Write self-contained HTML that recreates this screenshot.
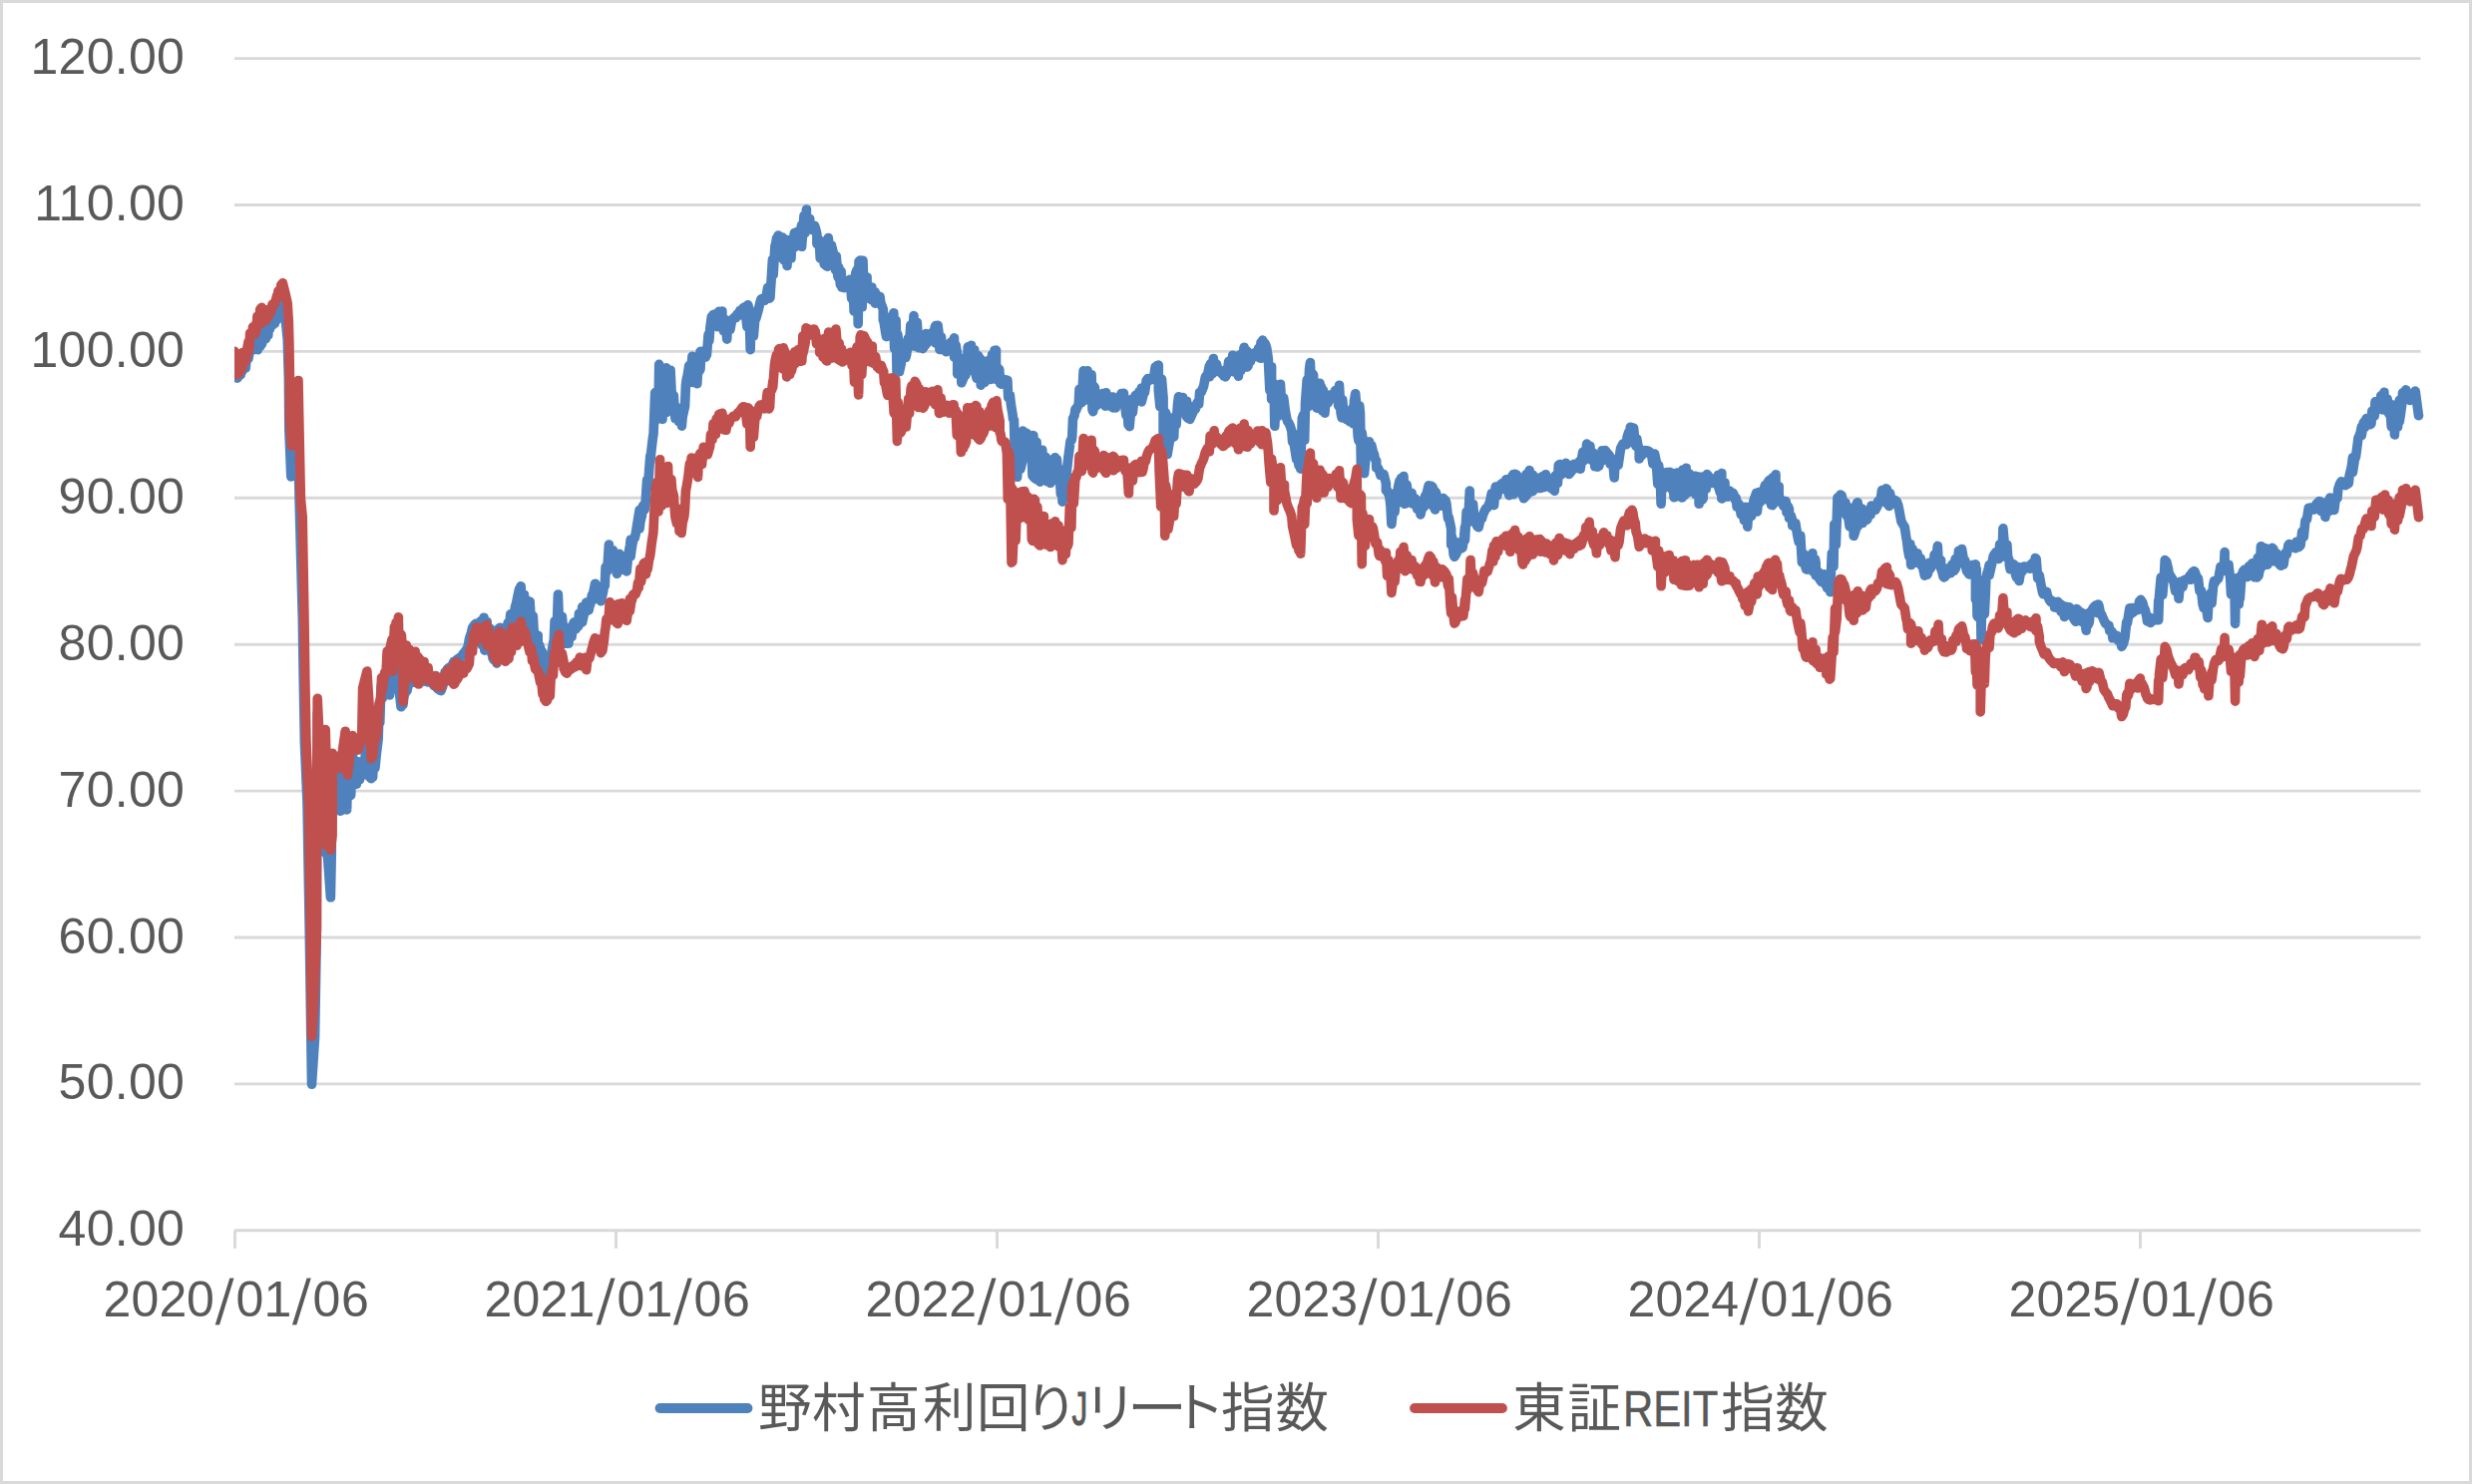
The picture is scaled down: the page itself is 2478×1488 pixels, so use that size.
<!DOCTYPE html>
<html lang="ja"><head><meta charset="utf-8"><title>chart</title>
<style>html,body{margin:0;padding:0;background:#fff;}body{width:2478px;height:1488px;position:relative;overflow:hidden;}</style></head>
<body>
<svg width="2478" height="1488" viewBox="0 0 2478 1488" style="display:block;position:absolute;left:0;top:0">
<defs><clipPath id="pc"><rect x="235.0" y="0" width="2196.0" height="1488"/></clipPath></defs>
<rect x="0" y="0" width="2478" height="1488" fill="#ffffff"/>
<rect x="1.5" y="1.5" width="2475" height="1485" fill="none" stroke="#d9d9d9" stroke-width="3"/>
<g stroke="#d9d9d9" stroke-width="2.9" fill="none">
<line x1="235.0" y1="58.6" x2="2426.5" y2="58.6"/>
<line x1="235.0" y1="205.5" x2="2426.5" y2="205.5"/>
<line x1="235.0" y1="352.4" x2="2426.5" y2="352.4"/>
<line x1="235.0" y1="499.3" x2="2426.5" y2="499.3"/>
<line x1="235.0" y1="646.2" x2="2426.5" y2="646.2"/>
<line x1="235.0" y1="793.1" x2="2426.5" y2="793.1"/>
<line x1="235.0" y1="940.0" x2="2426.5" y2="940.0"/>
<line x1="235.0" y1="1086.9" x2="2426.5" y2="1086.9"/>
<line x1="235.0" y1="1233.8" x2="2426.5" y2="1233.8"/>
<line x1="235.5" y1="1233.8" x2="235.5" y2="1251.8"/>
<line x1="617.5" y1="1233.8" x2="617.5" y2="1251.8"/>
<line x1="999.5" y1="1233.8" x2="999.5" y2="1251.8"/>
<line x1="1381.5" y1="1233.8" x2="1381.5" y2="1251.8"/>
<line x1="1763.5" y1="1233.8" x2="1763.5" y2="1251.8"/>
<line x1="2145.5" y1="1233.8" x2="2145.5" y2="1251.8"/>
</g>
<g font-family="'Liberation Sans', sans-serif" font-size="50.0" fill="#595959">
<text x="185.2" y="74.1" text-anchor="end" letter-spacing="0.3">120.00</text>
<text x="185.2" y="221.0" text-anchor="end" letter-spacing="0.3">110.00</text>
<text x="185.2" y="367.9" text-anchor="end" letter-spacing="0.3">100.00</text>
<text x="185.2" y="514.8" text-anchor="end" letter-spacing="0.3">90.00</text>
<text x="185.2" y="661.7" text-anchor="end" letter-spacing="0.3">80.00</text>
<text x="185.2" y="808.6" text-anchor="end" letter-spacing="0.3">70.00</text>
<text x="185.2" y="955.5" text-anchor="end" letter-spacing="0.3">60.00</text>
<text x="185.2" y="1102.4" text-anchor="end" letter-spacing="0.3">50.00</text>
<text x="185.2" y="1249.3" text-anchor="end" letter-spacing="0.3">40.00</text>
<g><text y="1320.0" x="103.4 131.4 159.5 187.1">2020</text><text font-size="64.8" stroke="#ffffff" stroke-width="1.15" transform="translate(214.8,1327.8) scale(1.15,1)">/</text><text y="1320.0" x="236.4 264.4">01</text><text font-size="64.8" stroke="#ffffff" stroke-width="1.15" transform="translate(291.9,1327.8) scale(1.15,1)">/</text><text y="1320.0" x="313.5 341.9">06</text></g>
<g><text y="1320.0" x="485.4 513.4 541.5 568.5">2021</text><text font-size="64.8" stroke="#ffffff" stroke-width="1.15" transform="translate(596.8,1327.8) scale(1.15,1)">/</text><text y="1320.0" x="618.4 646.4">01</text><text font-size="64.8" stroke="#ffffff" stroke-width="1.15" transform="translate(673.9,1327.8) scale(1.15,1)">/</text><text y="1320.0" x="695.5 723.9">06</text></g>
<g><text y="1320.0" x="867.4 895.4 923.5 951.2">2022</text><text font-size="64.8" stroke="#ffffff" stroke-width="1.15" transform="translate(978.8,1327.8) scale(1.15,1)">/</text><text y="1320.0" x="1000.4 1028.4">01</text><text font-size="64.8" stroke="#ffffff" stroke-width="1.15" transform="translate(1055.9,1327.8) scale(1.15,1)">/</text><text y="1320.0" x="1077.5 1105.9">06</text></g>
<g><text y="1320.0" x="1249.4 1277.4 1305.5 1333.3">2023</text><text font-size="64.8" stroke="#ffffff" stroke-width="1.15" transform="translate(1360.8,1327.8) scale(1.15,1)">/</text><text y="1320.0" x="1382.4 1410.4">01</text><text font-size="64.8" stroke="#ffffff" stroke-width="1.15" transform="translate(1437.9,1327.8) scale(1.15,1)">/</text><text y="1320.0" x="1459.5 1487.9">06</text></g>
<g><text y="1320.0" x="1631.4 1659.4 1687.5 1715.3">2024</text><text font-size="64.8" stroke="#ffffff" stroke-width="1.15" transform="translate(1742.8,1327.8) scale(1.15,1)">/</text><text y="1320.0" x="1764.4 1792.4">01</text><text font-size="64.8" stroke="#ffffff" stroke-width="1.15" transform="translate(1819.9,1327.8) scale(1.15,1)">/</text><text y="1320.0" x="1841.5 1869.9">06</text></g>
<g><text y="1320.0" x="2013.4 2041.4 2069.5 2097.2">2025</text><text font-size="64.8" stroke="#ffffff" stroke-width="1.15" transform="translate(2124.8,1327.8) scale(1.15,1)">/</text><text y="1320.0" x="2146.4 2174.4">01</text><text font-size="64.8" stroke="#ffffff" stroke-width="1.15" transform="translate(2201.9,1327.8) scale(1.15,1)">/</text><text y="1320.0" x="2223.5 2251.9">06</text></g>
</g>
<g clip-path="url(#pc)" fill="none" stroke-width="9.6" stroke-linejoin="round" stroke-linecap="round">
<polyline stroke="#4f81bd" points="235.0,357.9 235.0,378.4 236.5,378.8 238.1,360.4 238.1,379.1 239.5,377.1 240.5,363.1 241.3,375.4 241.7,367.7 242.1,361.1 242.5,372.4 243.3,359.2 243.3,369.9 246.2,369.1 247.4,356.8 249.0,348.5 249.0,359.4 250.2,352.3 250.6,339.8 251.2,342.0 253.5,333.4 253.5,346.2 254.5,350.6 255.5,350.4 255.9,335.7 257.1,329.2 257.9,322.9 258.3,350.6 260.7,315.8 260.7,347.5 262.4,313.9 262.4,345.1 264.0,340.0 265.6,316.2 266.4,339.5 268.0,316.9 268.8,336.0 269.6,319.5 270.5,329.7 271.3,315.8 272.9,310.8 272.9,326.1 274.5,309.7 275.3,324.3 276.1,307.8 276.9,321.1 277.7,301.8 278.5,317.1 278.9,297.6 280.2,316.3 281.8,291.3 282.2,318.7 283.0,290.5 283.6,306.0 286.0,318.0 288.2,340.0 289.4,380.0 289.8,430.0 291.8,478.0 295.5,430.0 298.6,392.0 298.9,451.0 300.2,505.0 303.3,620.0 304.2,680.0 305.4,745.0 308.0,805.0 310.2,931.0 312.5,1087.3 315.6,1040.0 317.4,931.0 317.6,834.0 318.2,715.0 320.2,752.0 326.8,856.0 326.2,745.0 328.6,860.0 331.4,899.8 332.3,855.0 332.4,800.0 333.0,775.2 334.5,786.6 336.5,786.4 336.9,771.1 337.2,803.9 339.0,776.7 340.2,782.3 341.2,813.2 342.0,781.7 343.5,811.1 344.4,810.2 346.2,750.0 347.7,811.9 348.3,775.4 349.5,798.9 351.7,797.4 352.5,774.9 353.5,756.3 355.5,779.7 357.4,786.2 358.8,763.9 360.6,781.7 362.0,774.4 363.0,764.2 364.5,776.3 365.5,775.6 367.9,707.3 368.7,777.3 370.5,778.8 371.9,780.6 372.6,779.9 373.6,779.4 375.2,749.1 376.0,769.8 377.2,757.6 379.2,740.5 380.0,711.9 380.8,724.3 381.7,694.6 382.5,686.0 383.3,700.0 384.8,685.5 385.7,680.7 386.5,683.0 387.3,677.9 388.1,659.6 389.3,695.7 390.6,697.0 391.4,654.3 393.0,647.4 393.8,691.3 395.4,634.9 395.4,685.7 397.0,630.7 397.8,684.9 399.4,625.2 399.4,687.8 400.5,695.3 402.0,708.7 404.0,695.5 404.0,706.5 405.0,697.9 406.5,693.6 407.3,693.2 408.0,692.8 409.7,684.7 411.0,684.6 412.5,684.4 414.0,684.2 415.5,684.1 417.0,683.9 418.5,683.8 420.0,683.6 421.5,683.4 423.0,683.3 424.5,683.1 426.0,683.2 427.5,682.6 429.0,683.9 430.5,680.8 432.4,679.7 432.4,684.3 433.5,679.1 434.8,687.3 436.5,677.6 438.0,689.8 438.8,690.6 441.0,692.2 442.1,692.6 444.0,687.3 446.1,673.9 446.1,681.2 447.0,676.8 448.5,670.8 448.5,670.8 450.0,669.4 451.8,668.9 453.0,667.7 455.0,663.3 456.0,663.2 457.5,661.8 458.3,661.1 459.0,660.6 460.5,659.7 462.3,658.6 463.5,656.8 464.7,655.1 467.2,651.8 468.0,650.6 468.8,649.4 469.5,646.2 470.4,640.8 472.5,634.1 473.6,629.4 475.5,626.6 476.9,625.4 477.7,635.5 478.5,625.9 480.1,625.9 481.7,622.9 481.7,643.4 483.0,646.7 485.0,619.2 485.8,652.1 488.2,623.5 489.0,648.3 490.5,630.3 491.4,630.2 493.0,656.0 493.9,638.0 493.9,659.5 495.0,661.7 497.1,633.2 497.9,665.1 499.5,630.9 501.1,629.2 501.1,658.7 502.5,629.9 504.4,632.1 505.2,646.2 506.8,633.0 508.5,627.8 509.2,624.4 510.0,637.4 511.7,615.9 513.3,631.6 514.9,618.0 516.5,608.3 517.5,605.2 518.9,598.2 520.5,590.9 522.2,587.7 523.0,620.3 525.4,596.2 525.4,620.3 526.5,600.2 527.8,604.9 527.8,628.8 529.5,604.1 531.1,603.1 532.7,628.4 534.3,617.7 535.1,631.7 535.9,636.8 536.7,647.0 539.2,637.2 539.2,652.2 540.0,656.7 540.8,647.4 541.5,649.9 542.4,658.1 543.2,653.2 544.8,667.7 545.6,657.2 548.1,659.9 548.1,682.5 549.7,657.7 550.5,661.7 551.3,661.2 552.1,658.8 553.5,651.0 554.5,645.3 555.3,641.3 556.1,622.7 558.0,637.3 559.4,596.1 561.0,637.3 561.8,636.5 563.4,618.3 565.0,635.2 566.7,645.2 566.7,645.2 568.5,636.7 569.9,634.3 569.9,645.3 571.5,631.1 572.3,628.8 573.1,638.4 574.5,625.8 575.6,623.8 577.2,631.1 578.8,623.3 579.6,627.9 580.4,615.2 582.0,624.8 583.7,608.5 583.7,623.7 585.0,617.7 586.1,612.8 587.7,604.1 590.1,612.0 591.0,607.6 591.7,605.9 592.5,602.9 593.4,596.5 593.4,601.8 595.0,593.1 596.6,585.2 599.0,600.5 599.8,587.8 601.5,591.9 602.3,602.7 603.1,599.7 604.5,593.8 605.5,587.1 606.3,587.4 607.1,568.6 608.7,572.7 610.4,546.1 611.2,560.7 612.0,562.6 613.6,567.5 614.4,551.8 616.0,561.3 618.4,575.3 619.5,556.0 620.9,555.3 622.5,571.4 624.1,557.9 625.7,570.6 627.3,569.4 628.2,572.9 629.8,556.4 631.5,547.1 632.2,541.1 632.2,557.6 633.0,551.0 634.6,541.7 636.2,539.5 637.1,535.9 638.7,525.9 641.1,511.4 641.1,529.9 642.0,522.6 643.5,516.5 644.3,507.7 646.2,505.5 646.2,510.8 647.0,505.5 648.6,481.2 649.4,489.1 651.8,456.9 651.8,462.9 653.0,451.0 654.3,439.9 655.1,434.6 656.7,393.8 656.7,422.4 657.6,393.0 659.1,417.2 659.9,417.1 660.7,365.4 662.4,416.3 664.0,420.4 664.8,371.2 666.6,369.6 668.0,368.9 668.0,413.4 669.6,404.3 671.1,406.3 672.1,371.3 673.7,404.2 675.3,396.7 676.9,419.6 676.9,419.6 678.6,420.3 680.2,411.0 680.2,422.5 681.8,409.2 683.4,427.1 684.2,417.9 686.6,407.3 686.6,407.3 687.4,386.7 688.3,379.7 689.2,376.5 690.7,366.6 690.7,371.3 692.2,381.8 693.9,357.3 694.7,383.4 697.2,358.6 698.8,384.7 700.4,358.4 701.2,371.5 702.0,352.5 702.0,370.4 702.8,352.3 704.4,352.8 706.1,356.3 707.3,358.0 708.5,354.0 708.5,355.3 710.1,335.4 710.9,341.4 711.8,329.0 713.3,317.5 713.3,321.2 714.8,315.6 716.6,326.0 717.4,314.8 719.3,327.6 720.6,312.3 720.6,327.2 722.3,325.1 723.9,312.1 723.9,324.3 725.5,332.1 727.1,320.5 728.7,340.1 729.5,325.4 731.9,330.5 733.6,321.4 733.6,321.4 734.4,320.2 735.9,318.6 736.8,317.6 737.6,318.8 738.9,315.0 740.4,316.3 741.7,311.4 741.7,315.3 743.4,313.2 744.9,308.7 745.7,308.4 745.7,308.4 746.4,307.8 747.3,313.3 748.9,327.7 749.7,305.7 751.0,310.0 752.2,350.6 753.0,312.9 754.6,318.4 755.4,336.8 757.0,317.5 757.8,319.4 757.8,319.4 760.0,311.7 760.7,308.6 762.3,301.9 763.1,299.8 765.5,299.1 765.5,299.1 766.5,301.3 768.0,298.3 768.0,298.3 769.6,288.3 771.0,299.3 772.0,288.7 772.0,298.3 774.4,260.2 775.2,275.1 776.9,246.5 776.9,249.1 778.5,239.0 779.3,247.5 780.1,236.0 780.9,252.9 783.3,257.1 784.1,238.1 785.0,259.8 786.0,260.9 787.4,240.2 788.2,240.4 789.0,266.5 790.4,241.9 791.4,243.5 793.0,259.0 793.9,239.5 794.9,248.4 796.3,233.6 796.3,248.0 797.9,234.7 799.5,232.3 800.3,243.7 801.9,234.9 803.6,225.7 803.6,247.3 806.0,216.2 806.8,233.7 808.4,210.0 808.4,220.8 809.9,225.2 811.7,219.3 811.7,226.6 813.3,230.4 814.1,230.0 816.5,226.3 816.5,226.3 817.4,228.7 818.9,234.7 818.9,244.5 820.4,239.5 821.4,242.8 822.2,259.0 823.8,246.9 825.4,254.1 826.2,264.9 827.0,242.1 827.9,266.3 829.4,267.3 830.3,238.6 832.7,264.1 833.5,246.1 835.9,255.8 835.9,264.5 837.5,258.8 837.5,270.8 838.3,257.1 840.0,277.8 840.8,268.4 842.4,285.6 843.2,272.3 844.0,288.1 846.4,288.6 846.4,288.6 847.3,283.6 848.9,287.3 849.7,282.4 851.3,285.3 852.1,280.2 853.7,299.3 855.3,288.2 856.1,312.1 857.8,273.6 859.3,270.2 860.2,324.8 861.0,262.1 862.3,261.1 864.2,307.8 865.0,261.2 865.9,287.5 866.8,286.8 868.3,277.6 869.1,277.8 869.1,299.0 869.9,298.3 871.5,295.1 872.8,297.9 873.9,288.1 873.9,300.8 875.8,301.6 877.2,293.0 877.2,304.1 878.8,299.5 879.6,303.9 882.0,297.2 882.8,303.3 885.3,310.1 885.3,320.9 886.1,322.7 887.8,334.1 888.5,337.6 889.3,325.2 890.7,332.7 891.7,323.4 891.7,329.0 893.4,317.3 895.0,329.8 895.8,313.7 896.6,349.5 898.2,321.6 899.0,372.9 899.8,335.5 901.5,348.2 901.5,372.6 903.1,365.4 904.7,355.8 906.3,357.1 907.2,350.5 907.9,343.7 907.9,358.4 908.7,355.5 910.4,339.3 910.4,349.2 911.7,344.4 912.8,326.1 912.8,342.3 914.7,344.9 916.0,316.6 916.0,345.0 917.6,347.2 919.3,323.4 920.9,348.7 921.7,336.7 924.1,341.1 924.9,349.6 926.7,347.2 928.2,334.6 928.2,345.4 929.7,343.0 930.6,341.4 931.4,336.6 932.7,340.3 933.8,341.7 934.6,333.2 936.2,336.7 937.2,328.0 937.9,326.5 937.9,344.2 938.6,344.1 940.1,326.4 941.1,334.5 941.9,350.5 943.5,337.9 944.3,350.4 946.0,350.1 947.6,346.2 948.4,352.7 949.1,345.6 950.8,347.5 952.4,346.7 953.2,343.1 954.9,345.3 956.5,338.8 956.5,358.1 958.1,345.9 959.7,355.2 959.7,375.0 961.1,362.4 962.1,364.1 963.8,368.7 963.8,383.8 965.6,379.6 967.0,359.4 967.8,376.2 968.6,372.5 969.4,368.7 970.2,347.9 971.6,370.8 973.5,346.3 973.5,370.9 974.6,370.5 976.7,350.7 976.7,370.5 977.6,373.5 979.1,379.3 980.7,356.7 982.1,360.8 983.2,360.1 983.2,386.2 984.8,374.8 987.2,383.3 988.0,365.2 989.6,379.5 991.3,361.2 992.9,380.4 994.5,355.7 995.3,377.2 997.0,351.5 998.5,351.1 998.5,380.4 1000.0,368.6 1001.8,370.7 1002.6,384.5 1003.4,385.0 1004.5,385.2 1006.6,380.4 1007.4,380.7 1009.0,381.0 1009.9,381.3 1009.9,381.3 1010.7,398.6 1012.3,395.7 1013.5,406.1 1015.0,415.2 1015.5,419.9 1016.5,421.2 1017.3,456.2 1018.1,462.8 1019.7,478.3 1021.3,437.4 1023.0,470.2 1024.6,463.5 1025.4,432.0 1027.0,435.5 1029.4,434.4 1029.4,441.6 1031.0,455.5 1032.7,437.7 1032.7,460.0 1033.5,437.3 1035.0,477.0 1035.9,436.5 1035.9,478.3 1038.0,480.0 1039.1,443.0 1039.1,480.8 1041.6,455.8 1042.4,483.1 1044.0,481.9 1044.8,451.4 1045.6,480.7 1047.0,481.5 1048.0,458.4 1049.6,482.6 1050.5,466.1 1051.5,465.1 1052.9,484.3 1053.7,464.8 1054.5,463.3 1056.1,460.0 1056.1,480.7 1057.5,458.9 1058.5,464.4 1059.4,460.6 1061.0,482.5 1061.8,470.2 1063.4,495.4 1064.2,473.2 1065.0,503.1 1065.8,500.6 1066.6,491.2 1068.3,482.7 1068.3,485.5 1069.5,471.4 1070.7,459.9 1070.7,459.9 1073.1,441.9 1074.0,441.6 1074.7,438.4 1075.5,419.7 1077.0,416.8 1078.0,410.2 1078.8,411.2 1080.0,407.7 1081.2,406.3 1081.2,406.3 1082.0,390.2 1083.0,402.4 1084.4,403.5 1086.1,371.8 1086.9,400.3 1089.3,391.5 1090.1,371.7 1091.7,401.4 1094.1,375.8 1095.0,411.0 1095.8,412.7 1096.5,387.2 1097.4,388.7 1099.0,404.4 1099.0,406.9 1101.4,400.5 1102.2,397.2 1104.7,401.5 1105.5,394.6 1107.0,405.6 1107.9,407.1 1108.7,393.7 1110.0,406.6 1111.1,406.3 1111.9,397.5 1113.0,407.2 1115.2,398.0 1115.2,408.4 1116.0,408.9 1117.5,398.9 1118.4,408.9 1119.2,400.1 1120.5,399.1 1121.7,405.2 1123.3,396.4 1124.1,394.6 1125.0,397.2 1126.5,394.2 1126.5,403.3 1128.0,408.7 1128.9,416.5 1129.7,402.1 1131.0,426.0 1132.2,409.6 1132.2,427.7 1134.6,400.3 1135.4,413.6 1137.0,398.7 1138.6,396.1 1139.4,398.8 1141.9,392.7 1141.9,401.3 1143.0,402.3 1144.3,389.0 1144.3,402.9 1146.0,396.2 1147.5,387.8 1147.5,393.4 1149.2,381.3 1149.2,381.3 1150.5,379.6 1152.4,379.7 1152.4,381.2 1153.5,380.6 1154.8,380.5 1155.6,380.2 1156.5,379.4 1158.1,368.1 1158.1,368.1 1159.5,367.0 1160.5,366.3 1161.3,366.1 1161.3,391.5 1162.9,407.7 1164.5,380.2 1166.1,399.0 1166.1,433.6 1167.0,439.9 1168.5,413.7 1169.4,416.3 1170.2,455.5 1171.0,450.5 1172.6,441.3 1174.2,437.0 1176.7,438.1 1176.7,438.1 1177.5,418.1 1179.1,425.6 1180.5,405.4 1181.5,397.7 1181.5,414.1 1183.9,409.3 1185.6,398.5 1187.2,414.0 1188.0,415.1 1189.6,402.3 1189.6,417.9 1191.0,419.4 1192.8,407.6 1192.8,420.4 1194.0,417.6 1196.1,412.9 1196.9,409.5 1198.5,409.8 1200.1,403.7 1201.7,405.3 1202.6,393.4 1204.2,393.1 1206.6,387.1 1206.6,387.1 1207.5,382.3 1208.2,378.5 1209.0,377.0 1210.5,375.8 1212.3,367.0 1212.3,377.7 1213.5,364.7 1215.5,374.6 1216.3,359.5 1217.9,370.1 1219.5,365.0 1221.0,371.7 1222.0,372.5 1222.0,372.5 1224.0,373.5 1225.2,375.1 1226.0,372.6 1227.0,377.1 1228.4,370.8 1228.4,377.9 1230.0,375.0 1231.7,362.2 1232.5,372.2 1234.9,367.4 1235.7,356.2 1237.3,373.0 1239.0,360.0 1240.5,358.4 1241.4,377.1 1243.0,355.7 1243.8,371.5 1245.4,362.9 1247.1,348.2 1248.0,366.5 1249.5,351.5 1250.3,352.3 1250.3,368.0 1251.0,366.9 1252.7,356.0 1253.5,362.4 1255.5,354.6 1256.8,355.2 1256.8,357.9 1258.5,353.4 1260.0,357.7 1261.6,349.1 1263.0,358.9 1264.0,343.3 1264.0,359.3 1265.7,341.1 1267.3,345.7 1268.1,344.4 1268.9,346.3 1269.7,348.9 1270.5,354.0 1271.3,359.4 1271.3,359.4 1272.9,391.5 1274.6,367.9 1274.6,400.4 1277.0,384.8 1277.8,427.2 1279.4,394.3 1281.0,417.4 1282.7,405.3 1283.5,385.3 1285.1,412.7 1286.7,398.9 1288.3,411.3 1289.1,415.9 1290.0,420.5 1290.7,422.5 1291.6,423.6 1293.2,426.9 1294.8,432.0 1295.6,442.9 1297.2,445.1 1299.6,460.6 1300.5,456.4 1302.0,466.7 1303.7,434.1 1303.7,470.2 1305.3,419.6 1306.5,416.0 1307.7,441.1 1308.5,404.0 1310.2,380.8 1311.0,407.7 1312.5,370.5 1313.4,363.5 1314.2,384.9 1315.5,374.5 1316.6,375.9 1316.6,406.2 1318.3,393.1 1319.9,409.1 1321.5,384.5 1323.1,384.3 1323.1,407.1 1324.5,388.2 1325.5,411.9 1326.3,391.4 1328.0,414.2 1328.8,400.7 1331.2,404.1 1332.0,401.7 1332.8,396.1 1333.6,397.6 1335.0,399.1 1336.1,397.6 1337.7,396.8 1338.5,391.6 1340.1,394.8 1341.0,401.1 1341.7,406.9 1342.5,386.3 1344.0,413.3 1345.0,418.7 1345.8,401.1 1347.0,419.2 1348.2,416.6 1349.0,419.5 1349.8,420.6 1351.5,415.4 1353.0,422.7 1353.0,422.7 1354.5,415.7 1355.5,409.6 1356.3,424.7 1357.5,401.8 1358.7,394.7 1359.5,404.5 1361.1,436.8 1362.0,442.0 1362.8,407.1 1363.5,414.7 1364.4,467.5 1365.2,434.1 1366.5,442.9 1367.6,447.9 1367.6,474.6 1369.2,456.8 1370.0,451.4 1371.0,448.2 1372.5,442.9 1374.1,456.1 1374.9,446.8 1376.5,453.7 1377.3,455.0 1378.5,460.6 1379.7,461.9 1379.7,468.9 1381.5,469.4 1383.0,473.3 1383.8,476.4 1384.5,476.3 1385.4,476.1 1387.0,475.4 1389.4,484.6 1389.4,491.9 1390.5,491.7 1391.9,495.5 1392.5,494.6 1394.0,507.8 1394.9,525.5 1397.3,503.2 1398.1,513.1 1399.7,493.4 1400.5,500.0 1401.5,488.6 1402.9,482.4 1403.8,500.4 1404.5,479.6 1406.0,504.0 1407.0,477.5 1407.8,505.3 1409.0,504.9 1410.2,486.4 1411.8,499.0 1411.8,503.7 1413.5,499.3 1415.1,494.4 1415.9,505.1 1418.3,499.7 1419.9,506.7 1420.7,510.6 1423.2,502.3 1424.0,515.9 1425.5,508.6 1427.2,508.7 1428.0,507.1 1428.8,497.0 1429.6,497.3 1432.1,486.9 1433.7,499.6 1434.6,487.2 1436.1,488.5 1436.1,507.0 1437.6,491.7 1438.5,511.0 1439.4,493.8 1440.6,498.3 1441.8,502.8 1441.8,507.4 1443.6,501.6 1445.1,507.1 1445.8,499.7 1445.8,502.7 1446.6,499.5 1448.3,501.2 1449.1,502.0 1449.9,504.7 1451.5,519.8 1452.3,518.8 1454.7,530.2 1454.7,546.4 1455.6,538.7 1456.3,546.8 1457.1,555.9 1458.0,558.3 1458.0,558.3 1460.1,554.8 1461.2,544.0 1462.0,551.4 1463.6,549.9 1464.4,550.2 1466.1,549.2 1467.6,538.3 1468.5,528.4 1468.5,541.3 1470.1,513.2 1470.9,524.2 1472.1,516.0 1473.3,492.0 1473.3,518.0 1475.8,513.2 1476.6,505.5 1478.2,523.7 1479.0,518.8 1480.6,527.5 1482.2,528.8 1483.9,520.8 1485.5,520.2 1486.3,516.6 1487.1,515.1 1487.9,513.0 1488.6,511.4 1489.5,509.9 1491.1,508.9 1491.9,507.1 1493.6,503.0 1495.2,494.8 1496.1,505.9 1497.6,506.6 1499.2,488.1 1500.8,497.0 1502.1,490.9 1503.3,487.1 1503.3,487.1 1505.7,484.6 1506.5,490.0 1508.1,490.4 1509.7,480.8 1509.7,490.0 1511.2,492.8 1513.0,496.7 1513.8,481.0 1515.7,477.8 1517.0,475.5 1517.0,495.6 1518.7,475.2 1519.4,492.1 1520.3,476.2 1521.9,485.7 1523.5,479.6 1523.5,494.2 1524.7,479.2 1526.2,496.6 1527.5,481.3 1527.5,499.8 1529.2,498.0 1530.0,475.5 1530.8,495.9 1532.2,494.2 1533.2,471.6 1533.2,493.0 1535.2,492.6 1536.4,476.4 1536.4,492.6 1538.9,481.1 1539.7,480.5 1540.5,489.5 1541.2,489.5 1542.9,479.1 1544.2,489.4 1545.3,489.2 1546.1,477.7 1547.2,488.7 1549.4,475.7 1549.4,488.1 1550.2,487.8 1551.7,479.2 1552.6,480.5 1552.6,485.6 1555.0,483.4 1555.0,489.6 1556.2,490.5 1557.5,490.7 1558.3,492.2 1559.1,477.0 1560.7,475.9 1561.5,484.4 1562.3,466.3 1563.7,465.5 1564.8,476.1 1566.4,466.0 1566.4,466.0 1568.2,469.5 1569.6,464.3 1570.4,473.5 1571.2,474.2 1572.8,466.7 1572.8,475.5 1574.2,474.0 1576.1,471.4 1577.7,465.4 1579.3,468.6 1580.2,469.2 1581.7,469.4 1583.4,462.4 1584.2,470.2 1586.6,453.3 1587.4,461.9 1589.8,453.9 1590.6,445.1 1592.3,455.6 1593.1,453.2 1593.9,447.2 1594.7,461.0 1597.1,454.0 1598.7,461.0 1598.7,467.8 1599.8,458.9 1601.3,468.1 1602.0,456.6 1602.8,467.2 1604.3,461.5 1606.0,451.8 1606.0,462.0 1607.6,454.7 1609.3,451.6 1610.9,454.8 1611.8,454.7 1613.3,456.8 1614.1,465.3 1616.5,460.3 1618.2,479.0 1619.0,464.0 1620.8,466.1 1622.2,466.2 1622.2,466.2 1623.8,454.9 1624.6,449.5 1624.6,449.5 1627.1,444.8 1627.9,444.6 1630.3,445.7 1631.1,438.2 1632.8,432.9 1633.5,443.4 1634.3,428.2 1636.0,437.3 1637.6,429.1 1638.4,437.7 1640.0,447.4 1640.8,440.1 1641.8,445.7 1643.2,450.9 1643.2,460.0 1644.8,455.4 1645.7,456.7 1646.5,455.6 1647.8,452.7 1648.9,451.5 1648.9,453.6 1650.8,451.8 1652.1,452.1 1652.1,454.0 1653.8,453.2 1655.4,455.1 1655.4,455.1 1657.0,465.2 1658.6,455.0 1660.2,462.6 1661.8,485.4 1662.7,466.9 1664.3,479.6 1665.1,505.2 1665.8,482.4 1666.7,481.4 1668.3,489.3 1669.9,478.1 1670.7,473.5 1672.4,479.5 1674.0,473.4 1674.0,488.1 1674.9,474.0 1676.4,491.3 1677.2,475.6 1678.0,498.7 1679.4,498.4 1681.3,474.0 1682.1,497.3 1683.9,475.4 1685.3,475.7 1686.1,498.9 1686.9,471.0 1688.4,496.6 1690.2,469.4 1690.2,494.9 1691.4,494.3 1693.4,474.9 1694.2,493.0 1695.0,479.1 1695.9,478.7 1697.4,486.1 1699.1,477.2 1699.9,495.9 1701.9,478.0 1703.1,478.1 1703.1,505.3 1705.5,479.7 1706.4,501.3 1707.2,499.8 1708.0,477.7 1709.4,490.8 1710.4,490.3 1711.2,475.6 1712.8,477.5 1714.4,479.4 1716.1,481.7 1716.9,484.4 1718.4,480.9 1720.1,479.4 1720.1,479.4 1721.4,482.8 1722.5,476.2 1722.5,487.7 1724.4,493.9 1725.8,474.6 1725.8,499.9 1727.4,499.3 1729.0,483.9 1729.0,498.0 1730.6,494.4 1732.2,498.1 1733.9,492.1 1735.5,495.6 1737.1,494.3 1737.9,495.8 1739.4,501.2 1740.3,499.4 1741.1,508.2 1742.8,505.0 1743.9,506.9 1745.2,515.9 1746.0,508.2 1747.0,508.6 1748.4,509.4 1748.4,521.8 1750.0,508.4 1751.7,508.6 1751.7,528.1 1753.0,509.3 1754.9,510.7 1755.7,517.4 1757.3,506.7 1758.1,501.3 1759.0,499.0 1760.6,494.4 1761.4,512.9 1763.8,493.2 1764.6,503.3 1766.2,493.6 1767.0,494.1 1768.0,491.0 1769.4,486.5 1769.4,496.7 1771.0,485.2 1771.9,501.1 1772.7,482.5 1774.0,481.3 1775.5,506.2 1776.7,479.1 1776.7,506.7 1778.5,503.8 1780.0,475.7 1780.0,501.6 1781.5,501.4 1783.2,487.7 1783.2,496.8 1784.5,500.6 1785.6,504.0 1787.0,501.9 1787.8,507.3 1789.5,503.3 1790.2,502.6 1791.0,514.0 1792.5,508.0 1793.5,510.7 1793.5,519.7 1795.5,517.4 1796.7,521.8 1796.7,527.0 1798.5,525.2 1799.9,524.7 1799.9,524.7 1801.6,535.7 1801.6,535.7 1803.2,543.5 1804.8,537.2 1806.4,564.0 1808.0,555.4 1809.6,567.5 1810.5,570.7 1811.3,571.0 1812.0,569.8 1813.7,558.5 1814.5,569.2 1816.9,554.7 1816.9,572.9 1818.0,573.5 1819.5,560.7 1820.2,564.3 1820.2,577.0 1821.0,577.4 1822.6,573.3 1823.4,579.1 1824.2,581.2 1825.8,583.3 1826.9,583.1 1828.3,575.7 1829.1,584.5 1829.9,586.3 1831.5,588.6 1831.5,589.5 1832.3,583.4 1834.7,584.0 1834.7,593.7 1836.3,554.9 1838.0,567.8 1838.8,525.7 1840.4,546.2 1842.0,498.9 1842.8,512.2 1844.9,496.1 1846.1,496.7 1846.1,496.7 1848.5,507.7 1850.1,504.1 1850.9,516.6 1852.5,516.6 1854.1,527.9 1855.4,512.8 1856.6,515.3 1858.2,508.6 1858.2,537.4 1859.9,532.4 1861.4,504.4 1862.2,503.7 1862.2,527.8 1863.9,518.0 1866.3,509.8 1867.1,524.5 1868.7,516.8 1870.4,513.1 1871.1,521.4 1871.9,520.7 1872.8,511.8 1875.2,516.1 1876.0,507.0 1877.6,508.9 1880.0,511.3 1880.9,509.4 1881.7,508.2 1882.5,502.6 1883.9,504.4 1884.9,503.1 1886.5,491.5 1888.1,501.1 1890.6,489.9 1890.6,504.2 1891.4,490.5 1892.9,506.4 1893.8,507.5 1894.6,494.9 1896.2,502.8 1897.8,505.0 1899.4,501.3 1900.3,502.2 1901.1,502.4 1901.8,504.0 1902.7,506.2 1903.5,509.9 1905.1,518.6 1905.9,522.8 1907.8,526.2 1909.2,528.2 1909.2,528.2 1910.8,538.6 1911.6,542.9 1912.4,550.3 1913.8,557.9 1914.8,545.5 1915.6,566.4 1917.2,550.6 1918.9,562.0 1919.7,564.2 1921.3,557.5 1922.1,554.9 1922.8,562.9 1923.7,562.4 1925.3,559.9 1926.1,567.2 1927.0,566.4 1929.4,577.1 1931.0,565.2 1931.8,576.3 1932.6,574.9 1934.2,564.1 1935.0,570.3 1936.3,567.7 1937.5,566.6 1938.3,566.2 1939.1,556.1 1940.7,562.6 1942.3,547.4 1943.1,563.2 1945.6,561.7 1945.6,569.9 1946.8,573.2 1948.0,578.1 1948.8,578.9 1949.8,578.2 1951.3,570.3 1952.0,570.0 1952.8,575.4 1954.3,574.7 1955.3,574.8 1956.1,573.4 1956.9,565.9 1958.8,572.3 1960.1,560.4 1960.1,570.4 1961.8,565.5 1962.6,565.0 1963.4,552.4 1965.0,560.2 1966.6,550.5 1968.2,560.3 1969.8,562.0 1970.6,568.6 1971.5,572.3 1972.2,573.5 1973.9,572.4 1973.9,575.9 1975.2,567.9 1977.1,566.5 1977.1,566.5 1978.7,568.9 1980.4,565.9 1980.4,601.2 1981.2,570.3 1982.0,617.4 1982.7,618.6 1983.6,581.7 1985.2,587.8 1986.0,641.4 1986.8,591.4 1989.3,590.9 1989.3,615.8 1990.4,593.1 1990.9,579.4 1991.7,575.7 1993.2,570.9 1994.1,566.6 1994.1,576.6 1996.5,566.2 1998.2,557.6 1999.0,556.2 2000.6,553.8 2001.4,558.7 2002.2,559.8 2003.8,560.4 2003.8,560.4 2004.6,545.9 2007.1,556.1 2007.9,529.9 2009.5,547.8 2011.1,558.7 2011.9,546.3 2012.7,558.3 2014.3,562.4 2014.3,566.6 2015.1,570.6 2017.6,570.4 2018.4,565.8 2020.0,573.5 2020.8,577.4 2021.7,579.4 2023.2,568.5 2024.0,582.4 2026.2,569.0 2027.3,569.2 2027.3,572.6 2028.9,568.1 2030.5,568.1 2032.1,569.2 2033.7,569.9 2034.6,570.1 2036.2,565.7 2037.0,566.9 2038.2,563.9 2039.4,570.4 2040.2,559.5 2041.2,560.5 2042.7,579.9 2044.3,576.8 2045.9,586.0 2045.9,586.0 2047.5,594.2 2048.3,595.8 2050.1,594.7 2051.6,593.3 2052.4,597.4 2053.1,598.6 2054.0,600.8 2055.6,603.3 2057.2,602.4 2059.6,604.9 2059.6,609.0 2060.6,609.1 2062.1,603.8 2062.9,603.4 2063.7,608.2 2065.1,605.5 2066.1,606.5 2066.1,613.4 2068.1,607.4 2069.4,618.4 2070.2,608.2 2071.1,608.2 2072.6,615.8 2073.4,615.1 2074.2,608.7 2075.6,616.6 2076.6,617.1 2077.4,612.4 2078.6,620.1 2080.7,623.2 2081.5,610.5 2083.1,611.8 2084.7,619.5 2085.5,613.8 2087.2,623.7 2088.0,615.8 2089.1,615.4 2091.2,632.2 2092.0,616.2 2093.6,625.9 2094.4,623.1 2095.2,613.6 2096.9,612.9 2098.1,609.9 2099.3,608.3 2100.1,611.5 2101.1,606.7 2102.6,614.6 2103.3,606.0 2103.3,614.2 2104.1,607.8 2105.6,615.6 2106.6,616.2 2108.2,620.0 2109.0,621.8 2110.6,625.4 2111.4,625.6 2113.1,627.2 2113.9,627.1 2114.7,632.3 2116.0,632.4 2117.1,633.5 2117.9,639.8 2118.7,639.8 2120.5,638.7 2121.9,637.2 2121.9,637.2 2123.6,642.5 2125.2,639.8 2126.8,648.4 2128.4,645.5 2130.0,639.7 2130.0,639.7 2131.7,623.8 2132.5,624.8 2134.0,615.0 2134.9,609.7 2135.7,615.9 2137.0,609.5 2138.1,614.2 2138.9,610.4 2139.7,609.9 2141.4,608.9 2143.0,611.7 2144.6,602.9 2146.0,601.3 2147.0,607.3 2147.8,604.0 2149.0,609.1 2150.3,611.4 2150.3,611.4 2151.9,618.6 2152.5,622.9 2154.0,623.3 2154.9,619.3 2155.7,624.5 2157.0,623.1 2158.9,622.1 2159.7,621.5 2161.3,621.8 2163.0,621.7 2163.7,602.2 2163.7,621.7 2164.5,597.4 2166.2,579.0 2167.8,596.4 2169.4,577.3 2170.2,561.6 2171.8,563.3 2173.5,570.3 2174.3,576.0 2175.1,576.2 2175.9,577.7 2177.5,580.3 2179.1,583.9 2180.7,592.9 2183.2,584.5 2184.0,600.2 2185.6,583.2 2187.2,582.9 2188.0,588.4 2189.6,581.5 2192.1,580.7 2192.1,580.7 2193.1,580.6 2195.3,577.0 2196.1,581.3 2197.6,573.8 2199.3,572.6 2200.1,573.2 2201.8,578.0 2203.4,579.7 2205.0,592.7 2206.6,592.2 2208.2,606.6 2209.0,597.2 2209.0,609.6 2210.7,603.3 2213.1,619.5 2213.9,603.8 2216.3,594.3 2217.1,604.8 2218.7,586.4 2219.5,582.6 2219.5,585.4 2222.0,581.4 2223.6,580.3 2224.4,577.1 2226.0,568.2 2227.6,571.5 2229.2,572.3 2230.1,553.5 2230.1,568.3 2231.7,566.0 2234.1,566.3 2234.1,567.6 2235.7,580.5 2236.5,596.0 2239.0,581.0 2239.8,580.2 2240.6,625.4 2241.4,581.3 2242.8,579.4 2244.3,605.8 2245.4,578.4 2245.4,600.0 2247.0,577.0 2248.7,572.6 2250.3,571.0 2251.8,571.6 2252.7,578.5 2254.3,567.8 2255.9,575.9 2257.6,564.8 2260.0,578.8 2260.8,573.2 2261.6,574.1 2262.3,579.0 2263.2,559.2 2264.0,577.4 2265.3,570.9 2266.4,547.9 2267.3,568.4 2268.9,560.3 2270.5,549.5 2271.4,564.2 2272.9,566.2 2273.7,551.9 2275.9,550.5 2277.8,549.4 2277.8,562.8 2278.9,550.6 2280.4,562.8 2281.8,554.8 2281.8,562.3 2283.4,564.1 2285.0,559.0 2285.0,566.1 2286.4,567.2 2288.3,564.4 2289.1,566.2 2290.7,554.7 2292.3,555.7 2293.9,546.8 2294.8,545.5 2297.2,549.0 2298.8,547.3 2299.9,545.8 2301.2,549.6 2302.0,543.2 2303.0,544.3 2304.5,548.4 2306.1,546.8 2307.7,533.0 2309.3,538.3 2310.9,522.3 2312.5,520.8 2314.2,509.5 2314.2,509.5 2315.0,509.3 2316.6,509.0 2318.0,509.7 2318.7,509.2 2319.5,511.1 2322.0,505.3 2323.6,508.9 2324.5,502.7 2325.2,502.5 2326.0,511.6 2326.8,512.5 2328.4,505.7 2330.9,510.0 2330.9,518.4 2332.5,503.3 2334.1,513.1 2334.9,511.0 2335.7,499.0 2335.7,509.1 2337.9,510.5 2339.0,502.3 2339.8,511.5 2341.4,498.9 2343.0,499.6 2343.8,490.5 2345.4,485.5 2347.0,482.8 2348.7,483.5 2349.8,484.5 2351.1,486.6 2353.5,485.2 2354.3,484.6 2355.1,476.9 2357.3,467.9 2358.4,458.8 2358.4,473.4 2360.3,461.1 2361.6,457.5 2361.6,457.5 2363.3,444.5 2364.0,439.0 2364.0,439.0 2364.8,437.8 2366.3,433.1 2367.3,428.1 2367.3,436.5 2369.2,424.1 2370.5,422.3 2370.5,428.4 2372.1,419.6 2373.7,421.3 2375.2,425.3 2376.2,425.6 2377.0,424.7 2377.8,412.2 2380.2,417.2 2381.0,402.9 2382.7,411.3 2383.4,410.6 2384.2,402.2 2385.0,401.8 2385.9,408.7 2386.7,396.9 2388.7,410.9 2389.9,393.3 2389.9,408.5 2392.3,405.1 2393.1,400.0 2394.8,408.2 2394.8,415.1 2396.1,409.4 2397.2,427.8 2398.0,405.8 2399.1,407.0 2400.4,409.8 2400.4,435.9 2402.0,407.3 2403.6,428.0 2405.3,401.4 2405.3,422.4 2406.6,414.0 2407.7,405.7 2408.5,393.9 2410.1,397.4 2411.7,390.9 2411.7,392.8 2412.5,396.0 2414.0,393.9 2415.0,394.8 2415.8,401.4 2417.4,395.7 2419.0,400.5 2420.0,394.3 2421.2,392.1 2424.5,416.8"/>
<polyline stroke="#c0504d" points="235.0,352.2 235.0,374.3 236.5,374.9 238.1,354.8 238.1,375.5 239.5,374.2 240.5,357.4 241.3,371.1 241.7,362.0 242.1,355.4 242.9,368.0 243.3,353.5 243.3,363.1 246.2,362.2 247.4,351.1 249.0,342.8 249.0,353.0 250.2,346.7 250.6,334.1 251.4,333.5 253.1,333.0 253.5,327.8 254.5,332.3 255.9,330.1 255.9,334.7 257.1,323.6 257.1,330.2 257.9,317.2 257.9,320.3 259.0,316.5 260.3,320.2 260.7,310.2 262.4,308.3 262.4,324.2 264.0,321.7 265.6,310.6 266.4,321.6 268.0,311.2 269.6,313.8 269.6,316.8 271.3,310.2 272.1,311.9 272.9,305.2 273.7,306.9 274.5,304.1 276.1,302.2 276.1,303.3 277.0,298.7 277.7,296.2 278.5,297.8 278.9,291.9 280.6,294.7 281.8,285.6 282.6,297.2 283.4,283.8 285.9,293.8 288.2,304.0 289.3,322.0 289.9,343.0 290.4,378.0 290.5,420.0 292.4,447.0 295.8,415.0 299.0,381.5 300.4,451.0 301.4,500.0 303.2,518.0 305.0,620.0 305.8,680.0 307.0,745.0 309.6,805.0 311.3,931.0 312.5,1039.2 314.5,1008.0 317.4,931.0 317.6,834.0 318.2,700.4 320.2,742.0 327.0,848.0 326.2,731.5 329.0,836.0 331.4,852.3 333.1,838.0 333.3,755.4 336.0,762.0 340.2,770.5 343.5,752.0 346.2,733.2 348.3,777.0 353.5,737.6 358.8,752.0 362.6,742.0 363.6,690.0 367.9,673.0 370.4,712.0 372.1,760.7 372.6,759.4 373.6,758.8 373.6,758.8 375.2,742.7 377.2,738.6 378.4,731.6 380.0,705.5 381.7,700.0 382.5,679.5 383.3,691.5 384.8,679.1 385.7,674.2 386.5,676.1 387.3,670.3 388.1,653.1 388.1,662.3 389.3,666.1 391.4,647.8 393.0,641.0 393.8,672.9 395.4,628.5 395.4,662.9 397.0,624.2 397.8,652.7 399.4,618.7 399.4,663.6 400.5,634.4 402.4,636.8 404.0,660.3 404.0,703.4 405.0,690.4 406.5,653.4 407.3,646.9 407.3,682.3 408.0,668.7 408.9,652.0 410.5,651.3 412.1,656.8 412.1,668.4 414.0,672.1 415.4,677.5 416.2,653.4 417.0,682.1 418.5,658.2 419.4,686.0 420.2,660.2 421.8,664.5 422.7,680.6 425.1,663.5 425.1,678.1 425.9,679.6 427.5,681.5 429.1,669.5 429.9,681.8 431.6,676.6 433.2,684.2 434.0,681.5 434.9,685.8 436.4,679.1 437.2,678.1 437.2,688.1 437.9,688.4 439.4,680.2 440.5,681.5 442.1,689.1 444.5,679.0 445.4,677.5 446.1,683.3 446.9,681.3 447.7,679.0 448.5,672.0 449.9,681.9 451.8,673.0 451.8,682.4 452.9,684.0 455.0,666.3 455.0,686.3 455.9,685.2 457.4,663.7 458.3,681.4 460.7,676.6 461.5,667.0 463.4,669.1 464.7,670.8 464.7,675.1 466.4,666.9 467.2,668.3 468.0,670.5 469.6,667.2 470.4,665.4 471.2,651.6 472.4,648.5 473.6,653.5 474.4,636.2 476.1,643.9 476.9,632.1 477.7,628.7 477.7,628.7 479.8,629.8 480.9,629.7 480.9,634.6 483.3,638.4 484.1,629.3 485.8,642.7 487.3,627.0 488.2,626.6 488.2,647.6 490.3,633.4 491.4,635.4 492.2,648.1 493.9,643.7 494.7,657.7 496.3,642.7 497.9,637.7 497.9,663.6 499.3,636.9 501.1,633.0 501.1,661.1 502.3,634.2 504.4,637.1 505.2,662.3 506.8,663.2 507.6,640.8 510.0,636.3 510.0,660.6 511.3,634.8 512.5,653.6 513.3,629.4 514.1,638.5 515.8,639.8 516.5,632.2 517.3,630.7 518.1,647.2 518.9,627.8 520.3,626.4 521.4,643.4 522.2,623.3 523.8,640.1 525.4,631.9 526.3,634.6 527.0,635.4 527.8,640.1 528.6,643.9 531.1,654.0 532.7,649.9 533.5,662.7 535.1,659.7 535.9,667.0 536.7,671.2 538.2,672.1 539.2,672.1 539.2,672.1 541.6,684.2 542.4,678.7 544.0,696.2 544.8,684.6 545.7,701.3 547.2,691.4 547.2,703.3 548.7,702.0 549.7,686.7 551.3,697.8 552.1,681.1 553.2,672.7 554.5,677.1 555.3,658.8 556.2,653.5 557.0,659.0 557.8,642.7 558.6,649.9 560.2,636.2 561.8,664.5 563.4,655.3 565.0,663.3 565.0,669.9 566.7,674.0 568.3,675.2 569.9,668.9 571.2,669.6 572.3,671.1 572.3,671.1 574.8,666.9 575.7,669.0 576.4,668.6 577.2,665.3 578.0,663.7 579.6,667.5 581.2,659.1 582.0,665.9 583.1,660.2 584.5,660.9 584.5,668.3 586.1,659.7 587.7,659.0 587.7,671.6 589.1,659.4 590.9,660.0 591.7,656.8 593.4,650.2 593.4,651.2 595.0,643.9 596.6,639.7 598.2,648.8 599.6,650.1 600.6,641.1 602.3,654.7 603.9,652.3 605.5,641.7 606.3,633.5 607.1,628.9 607.9,620.7 607.9,625.3 610.4,616.5 611.2,603.9 612.8,616.8 614.4,606.2 616.0,622.5 616.8,609.5 617.6,624.1 619.3,625.5 620.1,605.5 622.5,621.1 623.3,604.7 624.9,619.0 626.5,606.4 628.2,622.3 629.8,611.1 631.4,600.4 631.4,612.7 632.5,604.9 633.8,600.5 634.6,596.2 635.5,595.5 636.2,595.1 637.1,595.8 638.5,592.0 639.5,584.4 640.3,589.1 641.9,570.2 642.7,583.0 644.3,570.9 645.1,565.4 646.0,564.3 647.5,575.8 649.2,564.8 649.2,570.6 650.5,561.9 651.6,557.7 652.4,551.9 653.2,545.0 654.9,533.9 655.9,513.6 657.5,487.7 658.5,483.2 660.0,512.9 661.6,460.8 663.0,507.3 664.8,469.2 664.8,504.5 666.4,471.4 668.0,504.5 669.6,467.6 670.5,501.7 672.0,498.6 672.9,480.9 673.7,491.0 675.3,496.7 676.1,508.8 676.9,518.4 678.5,525.0 680.2,510.2 681.0,532.8 682.6,514.7 683.1,534.5 684.2,524.2 685.8,517.9 686.6,510.1 687.4,492.3 687.4,492.3 688.5,486.5 689.9,477.8 689.9,477.8 691.4,464.7 692.3,474.6 693.1,459.0 694.7,469.0 696.3,459.9 697.4,459.7 698.8,459.8 699.6,478.4 700.4,457.4 702.0,454.4 703.6,465.5 705.2,448.2 705.2,451.8 706.4,448.6 708.5,453.8 709.3,455.8 710.9,450.4 711.7,447.7 712.5,435.5 714.1,440.7 715.0,424.8 717.4,435.5 718.2,419.7 719.0,423.7 719.9,424.1 720.6,415.6 721.4,415.0 723.0,429.9 723.9,414.3 725.9,430.9 727.1,419.8 727.9,431.3 729.5,421.6 730.4,420.9 731.1,424.1 731.9,420.9 733.6,419.3 733.6,419.3 734.9,417.4 736.8,417.3 737.6,417.6 739.4,414.2 740.8,413.8 741.7,411.9 742.4,411.1 743.9,408.7 744.9,407.9 745.7,407.9 747.3,412.5 748.9,425.3 749.7,408.7 751.4,410.7 752.2,448.3 753.0,412.2 754.4,412.6 755.4,413.0 755.4,438.0 757.4,413.2 758.6,417.7 759.4,413.7 760.4,410.1 761.1,407.3 761.9,406.2 763.3,405.8 764.3,409.4 765.1,407.6 766.3,409.7 767.5,409.1 767.5,409.1 769.2,393.6 770.8,410.0 771.6,408.3 772.4,392.2 773.8,390.8 774.8,382.0 774.8,387.8 776.4,366.3 777.2,360.8 778.3,356.2 779.7,365.0 780.5,350.4 781.3,349.5 782.1,362.5 782.8,365.9 784.5,369.8 785.3,348.9 787.3,354.2 788.6,355.1 788.6,377.9 791.0,360.1 791.8,375.4 793.4,358.9 793.4,371.9 794.8,366.0 796.7,352.7 796.7,364.7 797.5,354.4 799.9,350.8 800.8,362.1 801.5,362.3 802.3,349.6 803.8,362.1 804.8,336.9 804.8,354.6 807.2,343.7 808.0,328.9 808.8,329.1 809.8,329.7 811.3,330.9 812.0,331.3 812.8,335.9 814.3,330.4 816.1,330.0 816.1,332.0 817.3,332.3 818.5,344.8 819.3,338.4 820.3,342.7 821.7,342.7 821.7,353.7 823.3,344.7 824.2,348.4 825.0,358.2 826.6,339.4 827.8,361.1 829.0,362.0 830.6,333.0 832.3,359.1 833.8,359.0 834.7,335.1 837.1,358.5 837.9,330.0 840.4,360.5 841.2,344.4 842.7,362.0 843.6,350.0 844.4,363.0 844.4,363.0 845.7,362.2 847.6,356.6 848.4,357.3 850.9,354.3 851.7,355.9 852.5,353.2 853.2,353.7 854.1,366.6 855.7,361.4 856.5,383.2 858.2,358.4 859.0,347.8 860.6,395.9 862.2,337.9 863.0,335.7 863.8,375.5 865.4,347.8 866.2,336.8 868.2,341.6 869.5,342.7 869.5,362.5 870.3,350.4 871.2,349.9 871.9,360.6 872.7,361.7 874.3,347.1 874.3,363.7 875.7,364.2 877.6,357.3 879.2,367.9 879.2,367.9 880.2,368.5 881.7,370.1 882.4,368.5 883.2,366.2 884.7,370.3 885.7,372.7 885.7,372.7 886.5,383.8 887.3,383.5 889.7,396.2 890.5,381.4 892.2,379.4 892.9,379.0 893.7,380.3 894.6,378.8 894.6,390.0 896.2,414.3 897.8,381.1 899.4,442.4 900.2,403.5 901.8,418.6 902.7,434.1 903.5,432.8 905.1,427.1 905.9,419.3 907.5,416.0 908.3,428.0 910.7,399.6 911.6,414.5 913.1,389.9 914.0,386.8 914.0,405.1 916.4,402.7 917.2,382.3 919.1,385.8 920.5,408.5 921.3,389.6 922.1,391.9 923.7,396.3 925.3,409.3 926.6,407.2 927.7,392.8 928.5,403.8 929.6,402.3 931.0,393.6 931.8,400.3 932.6,401.2 934.1,392.6 935.0,392.3 935.0,396.2 937.4,405.5 938.6,406.2 939.9,390.8 941.5,414.4 943.1,399.1 944.7,413.3 946.3,412.8 948.0,406.2 949.1,406.2 951.2,414.1 952.0,407.4 953.6,406.5 954.4,406.1 956.1,405.8 956.9,415.8 958.1,411.6 959.3,436.5 960.1,414.8 961.1,419.0 962.5,425.7 963.3,453.4 964.1,419.5 965.6,449.7 966.6,417.7 967.4,446.1 968.6,442.6 969.8,408.7 969.8,437.8 972.2,433.8 973.1,408.9 973.9,409.1 974.6,433.0 975.5,430.6 977.9,406.6 977.9,436.8 979.0,407.6 980.5,439.8 981.9,412.9 981.9,441.2 983.5,438.9 984.4,422.2 985.2,435.7 986.5,432.6 988.4,416.3 988.4,428.6 989.5,427.9 991.7,411.5 992.5,426.9 993.3,426.8 994.0,406.9 995.7,403.3 996.5,422.7 998.1,428.7 998.9,401.9 1000.0,411.2 1002.2,421.9 1002.2,433.8 1003.0,434.9 1003.8,440.9 1004.5,442.7 1005.4,443.1 1007.0,442.8 1007.8,443.7 1009.4,454.8 1010.3,500.6 1011.1,453.0 1012.0,457.8 1012.5,471.4 1014.0,564.2 1014.9,490.0 1014.9,563.4 1017.3,509.2 1018.1,541.7 1019.7,500.2 1019.7,513.5 1021.5,493.9 1023.0,517.6 1023.8,493.1 1023.8,519.1 1024.5,492.8 1026.2,510.9 1027.0,492.5 1028.6,499.9 1030.2,497.9 1031.0,521.1 1032.0,521.3 1033.5,501.1 1034.3,540.5 1035.0,542.3 1036.5,500.2 1037.5,501.6 1038.3,543.3 1039.9,508.6 1041.0,545.8 1042.4,518.4 1042.4,547.0 1044.0,546.1 1045.5,517.5 1046.4,517.7 1046.4,544.6 1048.8,527.1 1049.6,546.5 1052.1,528.3 1052.9,548.5 1054.5,524.8 1056.1,545.4 1057.7,522.9 1058.5,536.1 1061.0,526.9 1061.0,548.0 1062.0,547.7 1063.4,531.6 1065.0,561.6 1066.6,546.8 1068.3,555.5 1069.1,531.2 1069.9,548.2 1071.0,545.1 1072.3,508.6 1073.9,529.0 1074.7,487.9 1075.5,484.0 1076.3,504.8 1078.0,477.6 1078.8,478.9 1080.0,473.6 1081.2,471.3 1081.2,471.3 1082.0,457.4 1083.0,470.9 1084.4,472.5 1086.1,439.6 1086.9,466.1 1089.3,460.3 1090.1,442.0 1091.7,467.2 1094.1,441.2 1095.0,473.0 1095.8,474.2 1096.5,451.2 1097.4,452.6 1099.0,466.7 1099.0,469.5 1101.0,468.7 1102.2,459.9 1102.2,467.8 1104.0,469.0 1105.5,469.5 1106.3,456.6 1107.0,472.0 1108.7,474.3 1109.5,458.6 1111.9,470.8 1112.8,459.8 1114.5,458.5 1116.0,457.4 1116.0,471.8 1117.5,459.2 1119.2,469.5 1120.0,462.2 1122.5,465.5 1123.3,462.0 1124.9,461.2 1126.5,461.2 1126.5,465.5 1128.1,472.5 1129.7,468.7 1131.4,494.7 1132.2,475.0 1134.6,469.0 1135.4,482.1 1137.0,466.8 1138.6,465.5 1140.0,472.0 1141.1,473.4 1141.9,466.1 1143.0,473.6 1144.3,462.3 1145.1,473.1 1146.0,469.9 1147.5,461.3 1148.3,462.7 1150.0,455.5 1150.8,453.6 1152.0,451.4 1153.2,450.8 1154.8,449.1 1155.6,448.3 1156.5,446.7 1158.1,441.7 1158.9,441.1 1160.5,439.9 1161.3,439.6 1162.1,472.4 1163.7,508.0 1164.5,452.0 1165.5,460.0 1167.0,479.4 1167.8,537.3 1168.5,486.6 1169.4,490.8 1171.0,530.3 1171.0,530.3 1172.6,521.3 1174.2,517.9 1176.7,510.0 1176.7,517.5 1177.5,503.6 1178.3,494.2 1179.1,505.0 1180.5,480.2 1181.5,474.9 1181.5,489.3 1183.5,475.2 1184.8,482.4 1185.6,476.1 1186.5,476.1 1188.0,488.8 1189.6,476.3 1191.0,491.8 1192.0,492.8 1193.7,479.4 1196.1,485.3 1197.0,485.3 1197.7,482.7 1198.5,483.7 1200.0,481.8 1200.9,479.7 1200.9,479.7 1202.6,468.7 1203.4,467.3 1204.5,464.4 1205.8,461.9 1206.6,460.0 1207.5,456.5 1208.2,453.6 1209.0,452.0 1210.5,449.1 1212.3,452.9 1213.1,437.0 1215.0,445.4 1216.3,444.0 1217.1,431.8 1218.0,442.3 1218.7,441.4 1219.5,437.9 1220.4,439.1 1222.8,443.4 1222.8,444.2 1224.0,445.6 1226.0,443.1 1226.0,447.5 1227.0,447.2 1228.5,438.3 1229.3,436.7 1230.1,444.5 1231.5,433.2 1232.5,431.6 1233.3,441.4 1234.5,429.7 1235.7,429.1 1235.7,437.1 1238.2,444.5 1239.0,445.1 1239.8,432.5 1240.5,431.7 1241.4,450.8 1243.0,429.3 1244.6,446.4 1247.1,425.0 1248.0,447.7 1249.5,430.9 1250.3,448.3 1251.1,431.7 1252.7,440.5 1253.5,445.0 1255.5,436.0 1256.8,436.6 1256.8,440.8 1258.5,434.8 1260.0,441.6 1260.8,432.0 1260.8,441.3 1263.0,443.6 1264.9,431.7 1264.9,445.8 1266.0,442.9 1267.5,434.0 1268.9,433.7 1268.9,433.7 1270.5,443.7 1271.3,452.2 1272.1,464.3 1273.8,483.7 1274.6,460.4 1277.0,476.2 1277.0,512.0 1278.6,482.2 1279.5,477.2 1280.2,501.8 1281.0,497.8 1282.7,491.4 1283.5,468.7 1285.1,494.5 1287.5,485.9 1287.5,491.9 1289.1,499.9 1289.9,504.8 1291.6,509.2 1293.2,512.8 1294.8,517.9 1295.6,528.0 1297.2,534.8 1299.6,546.8 1300.5,542.0 1302.0,552.2 1302.9,531.2 1303.7,555.2 1305.3,508.6 1306.5,505.4 1307.7,500.0 1307.7,525.8 1310.2,470.6 1310.2,504.8 1311.0,483.8 1311.8,464.3 1312.5,458.8 1313.4,454.1 1314.2,477.9 1315.5,463.9 1316.6,465.0 1316.6,491.0 1318.3,480.3 1319.9,499.3 1321.5,471.8 1323.1,471.2 1323.1,494.4 1324.5,474.1 1326.3,476.5 1327.2,493.9 1328.8,484.4 1331.2,488.4 1332.0,479.6 1333.5,479.7 1334.4,484.1 1336.1,479.8 1337.7,481.3 1339.3,475.3 1340.9,488.5 1342.5,471.9 1344.1,499.5 1345.5,483.1 1346.6,484.4 1348.2,498.0 1348.2,498.0 1350.0,500.5 1351.5,494.9 1352.2,497.4 1352.2,501.7 1353.0,503.4 1354.7,504.6 1356.3,487.4 1356.3,489.9 1357.5,483.7 1358.7,480.0 1360.3,470.4 1360.3,521.0 1361.9,537.1 1363.5,495.8 1364.4,497.2 1365.2,565.7 1366.0,515.0 1367.6,547.4 1368.4,547.3 1370.0,530.0 1371.0,527.6 1372.5,520.6 1373.3,534.3 1374.0,535.9 1375.7,528.0 1376.5,530.1 1377.3,534.7 1378.9,545.2 1380.6,543.8 1382.2,555.9 1383.0,557.6 1383.8,551.5 1384.5,553.9 1385.4,557.1 1386.2,555.8 1387.5,554.6 1388.6,562.5 1389.4,554.3 1390.6,577.4 1391.9,561.7 1392.5,569.4 1394.0,577.9 1394.9,594.4 1397.3,576.6 1398.1,583.3 1399.7,566.6 1400.5,569.4 1401.5,562.1 1403.0,568.3 1403.8,553.2 1404.6,568.5 1406.0,570.6 1407.0,548.6 1408.6,572.6 1410.2,556.8 1411.8,566.4 1412.7,570.0 1413.5,565.6 1415.1,561.5 1415.9,571.2 1418.3,567.6 1419.9,574.7 1419.9,574.7 1421.0,577.7 1423.2,570.4 1423.2,583.2 1424.0,583.3 1425.5,575.5 1427.2,576.9 1427.2,576.9 1428.8,566.5 1429.6,568.1 1431.5,560.8 1432.9,557.3 1432.9,567.6 1434.5,559.1 1435.3,576.4 1436.9,563.2 1438.5,583.9 1440.2,568.8 1441.8,578.9 1442.6,571.8 1443.5,571.7 1445.0,578.8 1445.8,570.8 1448.3,573.4 1449.1,574.8 1449.9,575.9 1451.5,587.7 1452.3,580.5 1454.0,608.2 1454.7,615.1 1455.5,599.0 1457.2,619.4 1458.0,625.1 1458.8,624.2 1460.0,620.9 1461.2,618.2 1462.0,613.1 1463.0,617.7 1464.4,618.1 1464.4,618.1 1466.0,617.8 1466.9,617.6 1468.5,601.2 1468.5,610.0 1470.9,580.5 1470.9,591.8 1472.0,583.9 1473.3,584.5 1474.1,561.5 1475.0,581.7 1475.8,579.1 1476.5,574.6 1477.4,578.5 1478.2,589.0 1479.0,587.8 1480.6,591.1 1482.2,593.6 1483.0,588.1 1484.7,581.8 1485.5,584.6 1487.0,578.2 1487.9,572.2 1487.9,574.3 1490.0,572.5 1491.1,573.2 1491.1,573.2 1492.8,567.6 1493.6,564.7 1494.5,562.5 1496.0,551.6 1496.8,563.0 1497.5,547.1 1499.0,558.2 1500.0,542.8 1501.7,552.9 1503.3,542.7 1504.1,542.6 1505.0,542.2 1506.5,540.1 1507.3,545.8 1509.7,537.2 1510.6,548.0 1513.0,538.7 1513.8,553.2 1515.4,535.4 1517.0,548.6 1518.6,531.5 1520.3,541.2 1521.9,538.3 1522.7,551.7 1524.3,544.1 1526.0,564.3 1526.7,566.0 1527.5,542.8 1529.0,562.1 1530.0,540.3 1530.0,560.4 1532.4,556.2 1533.2,537.9 1535.0,556.1 1536.4,555.9 1537.2,541.4 1538.0,553.8 1539.7,541.1 1539.7,551.5 1541.0,552.3 1542.5,540.7 1543.7,540.6 1544.5,553.1 1545.5,542.6 1547.0,544.4 1548.5,544.7 1549.4,554.0 1550.2,545.0 1551.5,546.1 1552.6,550.4 1553.4,547.6 1554.2,556.0 1556.7,550.5 1557.5,561.9 1559.1,544.8 1560.5,543.6 1561.5,556.6 1563.1,539.5 1564.8,552.1 1567.2,543.5 1567.2,548.9 1568.0,550.3 1569.5,544.4 1570.4,552.6 1571.2,545.0 1572.5,545.5 1573.7,555.6 1574.5,546.8 1575.5,546.2 1577.0,551.0 1577.7,545.8 1577.7,550.4 1578.5,545.3 1580.0,548.4 1580.9,547.5 1581.7,543.2 1583.0,547.4 1584.2,541.1 1585.0,546.6 1586.0,543.4 1587.4,536.9 1588.2,538.4 1589.0,537.3 1589.8,528.4 1590.6,535.4 1592.0,536.8 1593.1,523.4 1593.9,533.5 1595.0,537.1 1596.3,532.9 1596.3,542.0 1598.0,546.8 1598.7,543.4 1599.5,544.1 1600.4,554.8 1601.2,543.6 1602.5,540.2 1603.6,546.4 1604.4,538.8 1606.0,539.6 1607.6,533.9 1608.4,540.6 1610.0,541.0 1610.9,537.0 1611.7,542.7 1613.0,546.2 1614.1,541.5 1614.9,552.0 1616.5,543.6 1617.5,542.5 1619.0,558.8 1619.8,543.4 1620.5,545.6 1622.0,546.9 1623.0,543.6 1623.0,543.6 1624.6,530.0 1624.6,530.0 1627.1,523.6 1627.9,522.0 1629.5,521.8 1631.1,521.3 1631.1,526.9 1632.5,517.4 1633.5,513.8 1634.3,525.5 1636.0,511.3 1636.8,513.9 1638.4,523.2 1639.2,523.8 1640.0,532.9 1641.6,537.6 1643.2,548.3 1644.9,544.8 1646.0,545.3 1647.3,544.1 1648.9,540.0 1650.5,544.8 1652.1,541.8 1653.5,542.1 1654.6,542.7 1656.2,543.6 1656.2,552.1 1658.0,546.2 1659.4,542.2 1659.4,550.5 1661.0,562.0 1661.8,568.1 1662.7,552.3 1664.3,561.7 1665.1,587.7 1666.7,564.0 1668.3,574.4 1669.9,557.8 1669.9,562.0 1671.5,557.0 1672.4,566.8 1673.2,556.6 1674.0,571.7 1676.0,573.7 1677.2,561.8 1678.0,581.3 1679.6,565.1 1680.5,564.8 1681.3,582.1 1682.0,582.8 1682.9,564.7 1685.3,586.6 1686.1,562.6 1688.0,587.1 1689.4,561.7 1689.4,587.1 1691.0,587.4 1692.6,566.3 1693.4,587.2 1695.0,569.0 1696.6,582.9 1698.3,566.4 1699.1,584.1 1700.0,584.4 1701.5,566.3 1702.3,566.3 1703.1,588.7 1704.5,567.8 1705.5,568.5 1707.2,585.2 1708.0,564.4 1709.0,578.4 1711.2,561.4 1711.2,576.2 1712.0,570.3 1712.8,564.0 1714.4,565.5 1716.9,567.3 1716.9,571.0 1718.0,569.3 1720.1,566.4 1720.1,566.4 1721.0,568.9 1722.5,574.4 1723.3,563.1 1725.8,582.7 1726.6,563.9 1729.0,569.9 1729.8,581.5 1730.6,579.2 1731.5,579.7 1733.0,581.4 1733.9,577.7 1733.9,581.0 1736.0,581.8 1737.1,582.0 1737.1,582.0 1739.0,584.8 1740.3,584.7 1740.3,586.9 1742.0,589.7 1743.6,593.3 1743.6,593.3 1745.0,595.9 1746.0,595.8 1746.8,600.5 1748.4,596.1 1749.2,607.4 1751.7,593.6 1752.5,612.9 1754.0,604.9 1754.9,591.0 1755.7,603.0 1757.3,591.1 1757.3,591.1 1758.9,584.5 1760.0,593.7 1761.4,595.9 1762.2,578.0 1763.0,588.4 1764.6,586.1 1765.4,579.8 1766.2,576.4 1767.5,575.4 1768.6,573.0 1769.4,578.6 1770.5,568.7 1771.9,565.9 1771.9,584.1 1772.5,564.7 1773.2,564.4 1773.2,587.8 1774.0,589.2 1775.5,565.3 1776.5,565.6 1776.5,591.4 1778.5,562.9 1779.7,561.3 1779.7,585.6 1781.5,565.6 1783.0,585.3 1783.8,577.3 1783.8,581.0 1784.5,580.4 1785.4,583.7 1786.2,586.5 1787.0,593.1 1787.8,596.3 1789.0,594.8 1790.2,593.0 1791.0,602.5 1792.0,606.1 1793.5,601.8 1794.3,611.4 1795.0,612.9 1796.7,608.8 1797.5,613.2 1799.9,611.6 1799.9,611.6 1801.6,622.6 1801.6,622.6 1803.2,630.0 1804.0,633.9 1804.8,624.8 1805.5,629.6 1807.2,650.5 1808.0,643.9 1809.6,656.8 1810.5,659.1 1811.3,659.1 1813.7,647.5 1814.5,657.2 1816.0,660.3 1816.9,643.7 1816.9,662.1 1819.0,663.4 1820.2,651.3 1821.0,665.3 1822.6,659.0 1823.5,661.4 1824.2,662.5 1824.2,669.3 1825.0,669.3 1826.5,660.3 1827.4,669.8 1828.3,660.3 1829.5,664.4 1830.7,666.6 1830.7,676.2 1832.3,658.4 1834.0,681.1 1834.7,680.7 1835.5,668.9 1837.2,639.0 1838.0,653.8 1839.6,609.9 1839.6,633.6 1841.2,620.6 1842.8,583.7 1842.8,585.0 1844.5,580.7 1845.2,580.5 1846.1,581.0 1847.5,584.5 1848.5,585.7 1850.1,592.0 1850.9,602.7 1852.5,601.3 1854.1,616.5 1855.0,618.6 1855.8,601.7 1856.5,599.6 1858.2,596.6 1858.2,622.3 1859.5,596.7 1861.4,614.7 1862.2,592.7 1863.0,606.2 1864.0,607.4 1865.5,598.0 1866.3,597.1 1867.1,611.9 1868.7,603.2 1870.3,609.3 1871.9,598.1 1873.6,599.1 1874.5,592.8 1876.0,590.4 1876.0,596.5 1877.6,590.4 1879.0,592.4 1880.0,592.6 1881.7,589.6 1882.5,584.7 1883.5,584.4 1884.9,584.4 1886.5,573.1 1888.1,583.6 1889.5,569.8 1891.4,568.7 1891.4,585.6 1892.5,573.6 1894.6,577.2 1894.6,586.4 1895.5,582.7 1896.2,586.6 1897.0,586.3 1897.8,586.1 1900.3,583.6 1901.1,584.8 1902.7,589.9 1904.3,598.2 1905.1,602.7 1905.9,606.3 1907.5,608.0 1909.2,609.7 1909.2,609.7 1910.8,620.3 1911.6,623.8 1912.4,630.7 1913.5,623.9 1915.6,626.0 1915.6,645.1 1916.5,629.0 1917.2,631.6 1918.0,643.0 1918.9,640.5 1919.7,641.7 1921.0,642.1 1922.9,632.7 1923.7,640.3 1926.1,639.4 1926.1,644.9 1927.0,646.3 1927.8,645.5 1928.5,645.4 1929.4,652.1 1931.8,644.0 1932.6,649.4 1935.0,641.7 1935.9,644.2 1937.5,643.5 1938.3,643.0 1939.1,642.8 1939.9,632.8 1941.5,639.4 1943.1,626.0 1943.9,642.2 1945.0,643.3 1946.4,640.5 1947.2,650.8 1948.0,652.1 1948.8,653.8 1951.2,654.0 1952.0,647.9 1954.0,652.2 1956.1,651.9 1956.1,651.9 1957.0,649.7 1957.7,642.0 1958.5,642.8 1960.0,643.2 1960.9,637.1 1960.9,643.3 1963.4,631.0 1963.4,637.1 1964.5,629.6 1965.8,639.2 1966.6,627.8 1967.5,631.4 1969.0,640.6 1969.8,638.4 1971.5,649.0 1971.5,650.3 1973.5,650.9 1974.7,649.0 1974.7,652.6 1976.5,646.2 1977.9,645.8 1977.9,645.8 1978.7,649.8 1979.5,645.7 1980.4,674.0 1981.2,648.5 1982.0,687.0 1984.4,653.4 1985.2,670.1 1985.2,713.9 1986.8,659.8 1988.5,667.2 1989.3,685.4 1990.1,661.0 1990.1,661.0 1990.9,650.4 1992.5,644.2 1994.1,649.3 1994.9,636.2 1996.5,633.7 1997.5,627.9 1999.0,625.0 1999.0,625.0 2000.6,625.9 2002.0,629.6 2003.0,629.8 2003.8,628.0 2004.6,616.9 2006.2,623.3 2007.9,599.6 2009.5,620.1 2011.0,623.2 2011.9,613.7 2011.9,625.0 2014.3,630.0 2015.1,631.8 2016.0,631.5 2017.0,633.3 2019.2,634.6 2020.0,623.0 2021.5,621.6 2022.4,632.8 2023.2,620.2 2024.5,620.9 2026.5,630.2 2027.3,622.7 2028.9,624.3 2030.5,621.9 2032.1,626.1 2033.8,624.2 2035.0,628.3 2036.2,628.7 2037.0,623.4 2038.0,623.5 2039.4,622.4 2041.0,619.7 2041.0,632.7 2042.5,627.8 2044.3,638.6 2044.3,643.3 2045.9,648.3 2047.5,651.9 2047.5,651.9 2049.1,656.2 2050.0,655.2 2051.6,654.2 2052.4,656.6 2054.0,659.9 2055.6,662.0 2057.2,663.6 2058.8,665.6 2059.6,664.9 2060.5,664.6 2062.0,665.3 2062.9,664.8 2063.7,664.7 2065.0,667.5 2066.1,669.0 2067.7,663.9 2069.4,673.5 2071.0,665.6 2072.5,665.7 2073.4,670.2 2075.0,666.2 2076.6,671.0 2078.3,670.0 2080.7,678.0 2081.5,669.7 2082.3,669.8 2083.0,676.8 2084.7,676.1 2085.5,676.1 2087.2,683.1 2089.6,675.2 2091.2,690.4 2092.0,689.0 2093.6,673.8 2094.4,683.6 2096.9,672.8 2096.9,675.5 2098.0,677.2 2100.1,677.2 2100.9,674.4 2102.5,681.0 2104.1,674.4 2105.5,680.5 2106.6,683.6 2107.4,684.1 2109.0,691.4 2109.8,692.6 2111.5,694.8 2112.2,695.3 2113.0,697.2 2113.9,699.6 2115.5,702.4 2117.9,707.7 2117.9,707.7 2119.0,707.5 2120.5,705.7 2121.9,705.7 2121.9,705.7 2123.6,710.2 2125.2,708.5 2126.8,718.5 2128.4,716.1 2130.0,709.3 2130.8,709.2 2131.7,697.5 2132.5,694.9 2133.3,697.7 2134.0,694.9 2134.9,685.3 2136.5,691.2 2138.9,686.9 2138.9,688.1 2140.0,688.8 2142.2,684.1 2143.0,689.9 2144.5,681.1 2145.4,680.1 2146.2,687.4 2147.5,685.8 2149.4,689.6 2149.4,689.6 2151.1,696.5 2152.0,698.0 2152.5,700.0 2154.0,701.5 2154.9,700.2 2154.9,701.9 2157.0,701.6 2158.9,701.0 2159.7,700.7 2161.3,701.7 2163.0,702.5 2163.7,682.2 2163.7,702.8 2164.5,676.3 2166.2,661.0 2167.8,679.6 2169.4,660.1 2170.2,648.4 2171.8,651.2 2173.5,658.5 2175.1,662.7 2175.9,664.5 2177.5,667.5 2179.1,670.7 2180.7,676.8 2183.2,672.3 2184.0,685.9 2185.6,672.7 2186.4,673.1 2188.0,676.6 2189.6,670.3 2190.4,669.6 2191.6,669.3 2193.7,671.6 2193.7,671.6 2194.6,669.7 2196.1,665.2 2197.7,667.4 2199.1,664.1 2200.1,659.4 2200.9,659.4 2202.6,667.1 2204.2,663.5 2205.8,679.3 2206.6,672.1 2207.4,675.4 2208.1,686.6 2209.8,681.1 2209.8,690.9 2211.5,683.8 2212.6,680.2 2213.9,697.8 2214.7,685.5 2215.6,681.5 2217.1,673.8 2217.1,681.7 2218.6,670.1 2219.5,665.3 2221.2,661.3 2222.0,661.6 2223.2,662.8 2224.4,661.6 2224.4,661.6 2226.8,650.7 2227.6,658.1 2229.2,658.5 2230.1,639.3 2230.1,657.1 2232.5,651.5 2234.1,651.1 2234.9,655.2 2235.7,662.9 2236.5,673.4 2238.1,665.1 2239.7,659.5 2240.6,703.1 2241.4,659.4 2242.7,658.7 2244.2,683.9 2245.4,656.3 2245.4,677.6 2247.0,656.6 2248.7,651.6 2250.3,650.2 2251.7,650.7 2252.7,657.0 2254.3,647.5 2255.9,654.4 2257.6,644.8 2259.2,657.5 2260.0,658.4 2260.7,653.5 2261.6,654.8 2263.2,640.5 2264.8,652.4 2267.3,626.2 2268.1,645.3 2269.7,638.9 2270.5,630.3 2271.3,640.7 2272.8,630.6 2273.7,631.1 2273.7,643.9 2275.8,629.5 2277.8,627.8 2278.6,642.2 2280.3,642.2 2281.8,635.5 2281.8,641.7 2283.3,644.2 2284.2,642.7 2285.0,647.5 2286.3,649.6 2287.5,644.3 2288.3,650.8 2289.3,648.5 2290.7,637.0 2292.3,640.7 2293.8,629.3 2294.8,628.0 2297.2,631.9 2298.8,629.2 2299.8,628.1 2301.2,630.7 2302.0,626.7 2302.8,628.7 2304.3,630.8 2305.3,630.4 2305.3,630.4 2307.7,618.5 2308.9,616.8 2310.1,618.7 2310.9,607.2 2312.5,603.7 2313.4,600.9 2315.0,599.3 2315.0,599.3 2316.4,598.7 2318.2,598.4 2319.0,598.5 2320.9,596.9 2322.2,595.8 2323.1,594.8 2323.9,595.0 2325.5,600.3 2327.1,597.2 2328.4,605.6 2329.5,606.7 2330.3,601.3 2331.4,604.3 2332.8,595.3 2333.6,602.1 2334.4,602.2 2336.0,589.9 2336.0,601.8 2337.4,602.9 2338.9,591.9 2340.0,593.3 2340.0,604.8 2341.9,592.0 2343.3,591.0 2343.3,592.9 2344.9,585.2 2345.7,582.0 2346.5,580.3 2347.9,580.8 2349.4,581.9 2350.5,581.3 2350.5,581.3 2352.4,581.3 2353.8,579.7 2355.4,575.4 2356.2,571.4 2357.0,569.1 2358.6,561.6 2359.4,557.5 2361.9,552.3 2362.7,549.7 2364.3,539.1 2364.3,539.1 2366.0,537.1 2367.5,530.0 2369.1,530.6 2370.5,525.6 2371.6,521.4 2372.4,520.0 2373.5,524.7 2375.0,526.9 2375.5,525.9 2377.0,525.1 2377.0,527.5 2377.8,512.3 2380.2,518.5 2381.8,501.3 2383.4,509.8 2384.4,501.0 2385.9,500.7 2385.9,509.7 2387.5,498.3 2389.1,511.1 2390.7,496.0 2392.3,509.0 2393.9,501.4 2394.8,515.9 2396.4,504.4 2397.2,525.4 2399.6,506.2 2400.4,531.1 2402.0,504.7 2403.7,521.7 2405.3,498.6 2405.3,516.9 2406.7,509.9 2407.7,504.9 2408.5,491.4 2410.1,498.4 2411.7,489.8 2411.7,496.8 2412.6,499.1 2414.1,493.0 2415.0,494.2 2415.8,502.9 2417.0,493.6 2418.2,493.5 2419.0,497.4 2420.0,493.2 2421.2,491.3 2424.5,518.7"/>
</g>
<g fill="none" stroke-width="9.8" stroke-linecap="round">
<line x1="661.5" y1="1412" x2="749.5" y2="1412" stroke="#4f81bd"/>
<line x1="1418" y1="1412" x2="1506" y2="1412" stroke="#c0504d"/>
</g>
<g font-family="'Liberation Sans', 'Noto Sans CJK JP', sans-serif" font-size="53.5" fill="#595959">
<g><text y="1430.6" x="760.1 814.1 868.9 925.1 978.9 1027.1">野村高利回り</text><text transform="translate(1074.4,1429.2) scale(0.64,1)" font-size="49" stroke="#595959" stroke-width="1.1">J</text><text y="1430.6" x="1085.9">リ</text><text transform="translate(1129.65,1430.6) scale(1.13,1)">ー</text><text y="1430.6" x="1174.4 1224.1 1278.6">ト指数</text></g>
<g><text y="1430.6" x="1516.3 1571.6">東証</text><text transform="translate(1626.9,1429.7) scale(0.845,1)" font-size="49.6" stroke="#595959" stroke-width="0.5">REIT</text><text y="1430.6" x="1725.2 1779.3">指数</text></g>
</g>
</svg>
</body></html>
